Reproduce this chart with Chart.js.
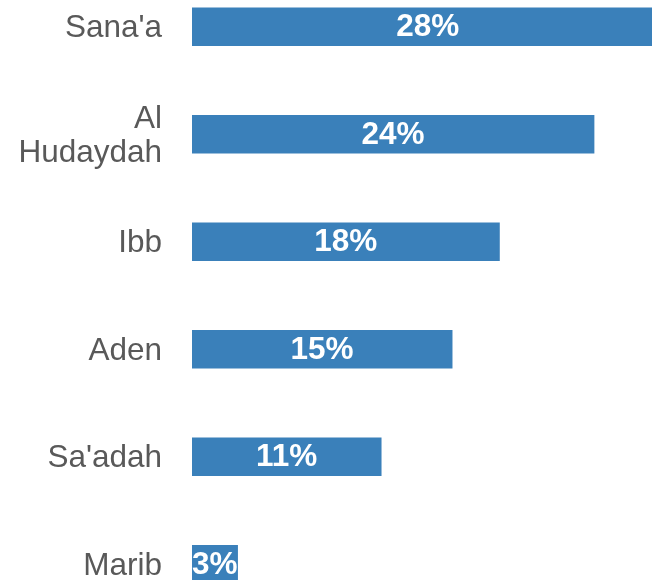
<!DOCTYPE html>
<html>
<head>
<meta charset="utf-8">
<script src="https://cdn.jsdelivr.net/npm/chart.js@4/dist/chart.umd.min.js"></script>
<style>
  body { margin: 0; background: #fff; }
  #wrap { position: relative; width: 652px; height: 580px; overflow: hidden; }
  #regionChart { position: absolute; left: 0; top: -27px; }
</style>
</head>
<body>
<div id="wrap">
  <canvas id="regionChart" width="665" height="645"></canvas>
</div>
<script>
// governorates, top to bottom
var regions = [["Sana'a"], ["Al", "Hudaydah"], ["Ibb"], ["Aden"], ["Sa'adah"], ["Marib"]];
// share of total (%)
var shares = [27.9, 23.8, 18.2, 15.4, 11.2, 2.7];
var axisMax = 28;

// white percentage written in the middle of each bar
var barLabels = {
  id: "barLabels",
  afterDatasetsDraw: function (chart) {
    var ctx = chart.ctx;
    var meta = chart.getDatasetMeta(0);
    ctx.save();
    ctx.fillStyle = "#ffffff";
    ctx.font = "bold 31.5px 'Liberation Sans', Arial, sans-serif";
    ctx.textAlign = "center";
    ctx.textBaseline = "middle";
    meta.data.forEach(function (bar, i) {
      var p = bar.getProps(["x", "y", "base"], true);
      ctx.fillText(Math.round(shares[i]) + "%", (p.x + p.base) / 2, p.y + 1);
    });
    ctx.restore();
  }
};

var ctx = document.getElementById("regionChart").getContext("2d");
var chart = new Chart(ctx, {
  type: "bar",
  data: {
    labels: regions,
    datasets: [
      {
        data: shares,
        backgroundColor: "#3a80ba",
        borderWidth: 0,
        barThickness: 38,
      },
    ],
  },
  options: {
    indexAxis: "y",
    responsive: false,
    animation: false,
    devicePixelRatio: 1,
    layout: { padding: 0 },
    plugins: {
      legend: { display: false },
      tooltip: { enabled: false },
    },
    scales: {
      x: {
        display: false,
        min: 0,
        max: axisMax,
      },
      y: {
        afterFit: function (scale) {
          scale.width = 192;
          // keep the category bands filling the whole canvas height
          scale.paddingTop = 0;
          scale.paddingBottom = 0;
        },
        grid: { display: false, drawTicks: false },
        border: { display: false },
        ticks: {
          color: "#595959",
          padding: 30,
          labelOffset: 2,
          font: { family: "'Liberation Sans', Arial, sans-serif", size: 31.5, lineHeight: 1.06 },
        },
      },
    },
  },
  plugins: [barLabels],
});
</script>
</body>
</html>
